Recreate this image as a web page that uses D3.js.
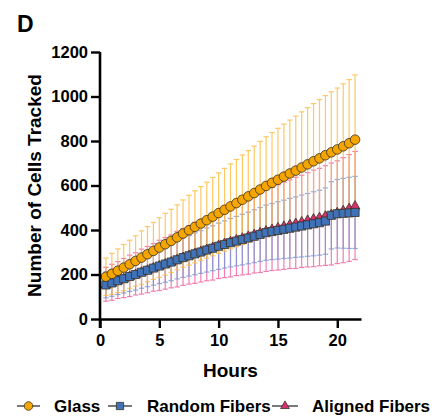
<!DOCTYPE html>
<html>
<head>
<meta charset="utf-8">
<script src="https://cdn.jsdelivr.net/npm/d3@7"></script>
<style>
  body { margin: 0; background: #fff; }
  text { font-family: "Liberation Sans", Arial, sans-serif; font-weight: bold; }
</style>
</head>
<body>
<div id="chart-area"></div>
<script>
// data
const hours = [0.5, 1, 1.5, 2, 2.5, 3, 3.5, 4, 4.5, 5, 5.5, 6, 6.5, 7, 7.5, 8, 8.5, 9, 9.5, 10,
  10.5, 11, 11.5, 12, 12.5, 13, 13.5, 14, 14.5, 15, 15.5, 16, 16.5, 17, 17.5, 18, 18.5, 19, 19.5, 20,
  20.5, 21, 21.5];

const glassMean = [190, 203, 217, 231, 246, 261, 276, 291, 306, 321, 336, 351, 367, 384, 399, 414, 429, 444, 460, 476,
  491, 506, 521, 536, 551, 566, 582, 598, 612, 626, 640, 654, 667, 681, 695, 709, 722, 736, 749, 762,
  776, 790, 806];
const glassSD = [84, 92, 98, 104, 108, 113, 120, 124, 128, 134, 139, 142, 146, 151, 157, 162, 166, 171, 176, 181,
  186, 191, 196, 201, 206, 211, 216, 221, 226, 231, 236, 240, 245, 250, 255, 259, 264, 268, 272, 276,
  281, 286, 291];

const randomMean = [153, 162, 172, 181, 191, 200, 210, 219, 229, 238, 247, 256, 266, 276, 284, 293, 301, 310, 318, 327,
  335, 343, 350, 357, 364, 372, 380, 388, 393, 398, 403, 408, 413, 418, 423, 428, 433, 440, 466, 473,
  475, 477, 479];
const randomSD = [58, 60, 62, 64, 67, 70, 72, 74, 77, 79, 82, 84, 86, 89, 91, 94, 96, 99, 101, 104,
  106, 109, 111, 114, 116, 119, 121, 124, 126, 129, 131, 134, 136, 139, 141, 144, 146, 149, 151, 154,
  157, 160, 162];

const alignedMean = [156, 165, 175, 184, 194, 203, 213, 222, 232, 241, 250, 259, 269, 279, 288, 297, 306, 315, 324, 333,
  342, 350, 358, 366, 374, 382, 390, 398, 405, 412, 419, 426, 432, 439, 446, 452, 458, 465, 472, 480,
  489, 499, 510];
const alignedSD = [76, 81, 83, 88, 93, 95, 101, 104, 107, 113, 116, 119, 125, 128, 131, 137, 140, 143, 149, 151,
  156, 161, 163, 168, 173, 175, 181, 184, 187, 192, 196, 199, 205, 207, 212, 217, 219, 224, 229, 231,
  236, 240, 243];

const xTicks = [0, 5, 10, 15, 20];
const yTicks = [0, 200, 400, 600, 800, 1000, 1200];

const margin = { left: 100, right: 75, top: 52, bottom: 97 };
const width = 436 - margin.left - margin.right;
const height = 416 - margin.top - margin.bottom;

const svg = d3.select('#chart-area').append('svg')
  .attr('width', 436)
  .attr('height', 416);

const g = svg.append('g')
  .attr('transform', `translate(${margin.left}, ${margin.top})`);

const x = d3.scaleLinear().domain([0, 22]).range([0, width]);
const y = d3.scaleLinear().domain([0, 1200]).range([height, 0]);

// panel letter
svg.append('text')
  .attr('x', 17)
  .attr('y', 32)
  .attr('font-size', '23px')
  .text('D');

const series = [
  { name: 'Glass', mean: glassMean, sd: glassSD, fill: '#f5a500', bar: '#ffbb3d', shape: d3.symbolCircle, size: 72 },
  { name: 'Random Fibers', mean: randomMean, sd: randomSD, fill: '#3f72b8', bar: '#7898d8', shape: d3.symbolSquare, size: 66 },
  { name: 'Aligned Fibers', mean: alignedMean, sd: alignedSD, fill: '#d4336f', bar: '#f0609e', shape: d3.symbolTriangle, size: 42 }
];

// error bars, all behind the markers
const barOrder = [series[2], series[1], series[0]];
barOrder.forEach(s => {
  const eg = g.append('g')
    .attr('stroke', s.bar)
    .attr('stroke-width', 1.2)
    .attr('opacity', 0.8);
  hours.forEach((h, i) => {
    const hi = y(s.mean[i] + s.sd[i]);
    const lo = y(s.mean[i] - s.sd[i]);
    eg.append('line').attr('x1', x(h)).attr('x2', x(h)).attr('y1', hi).attr('y2', lo);
    eg.append('line').attr('x1', x(h) - 2.7).attr('x2', x(h) + 2.7).attr('y1', hi).attr('y2', hi);
    eg.append('line').attr('x1', x(h) - 2.7).attr('x2', x(h) + 2.7).attr('y1', lo).attr('y2', lo);
  });
});

// lines and markers: aligned, then random, then glass on top
const line = d3.line().x(d => x(d[0])).y(d => y(d[1]));
barOrder.forEach(s => {
  const pts = hours.map((h, i) => [h, s.mean[i]]);
  g.append('path')
    .attr('d', line(pts))
    .attr('fill', 'none')
    .attr('stroke', '#222')
    .attr('stroke-width', 1);
  g.selectAll(null)
    .data(pts)
    .enter()
    .append('path')
      .attr('d', d3.symbol().type(s.shape).size(s.size))
      .attr('transform', d => `translate(${x(d[0])}, ${y(d[1]) + (s.shape === d3.symbolTriangle ? 0.8 : 0)})`)
      .attr('fill', s.fill)
      .attr('stroke', '#3a3020')
      .attr('stroke-width', 0.8);
});

// axes
const yAxisCall = d3.axisLeft(y).tickValues(yTicks).tickFormat(d3.format('d'))
  .tickSize(9).tickSizeOuter(0).tickPadding(3);
const yAxis = g.append('g').attr('class', 'y-axis').call(yAxisCall);

const xAxisCall = d3.axisBottom(x).tickValues(xTicks).tickFormat(d3.format('d'))
  .tickSize(9).tickSizeOuter(0).tickPadding(6);
const xAxis = g.append('g')
  .attr('class', 'x-axis')
  .attr('transform', `translate(0, ${height})`)
  .call(xAxisCall);

[yAxis, xAxis].forEach(a => {
  a.select('.domain').attr('stroke', '#000').attr('stroke-width', 2.6);
  a.selectAll('.tick line').attr('stroke', '#000').attr('stroke-width', 2.4);
  a.selectAll('.tick text')
    .attr('font-size', '16.5px')
    .attr('font-family', '"Liberation Sans", Arial, sans-serif')
    .attr('font-weight', 'bold')
    .attr('fill', '#000');
});
yAxis.select('.domain').attr('d', `M0,${height + 9}V0`);

// axis labels
g.append('text')
  .attr('x', width / 2)
  .attr('y', height + 58)
  .attr('font-size', '19px')
  .attr('text-anchor', 'middle')
  .text('Hours');

g.append('text')
  .attr('x', -(height / 2))
  .attr('y', -59)
  .attr('font-size', '19px')
  .attr('text-anchor', 'middle')
  .attr('transform', 'rotate(-90)')
  .text('Number of Cells Tracked');

// legend
const legendItems = [
  { s: series[0], x0: 17, x1: 40, tx: 54 },
  { s: series[1], x0: 108, x1: 132, tx: 147 },
  { s: series[2], x0: 272, x1: 298, tx: 312 }
];
const ly = 406;
legendItems.forEach(it => {
  svg.append('line')
    .attr('x1', it.x0).attr('x2', it.x1)
    .attr('y1', ly).attr('y2', ly)
    .attr('stroke', '#222').attr('stroke-width', 1.2);
  svg.append('path')
    .attr('d', d3.symbol().type(it.s.shape).size(it.s.size * 0.8))
    .attr('transform', `translate(${(it.x0 + it.x1) / 2}, ${ly})`)
    .attr('fill', it.s.fill)
    .attr('stroke', '#3a3020')
    .attr('stroke-width', 0.8);
  svg.append('text')
    .attr('x', it.tx)
    .attr('y', ly + 6)
    .attr('font-size', '17px')
    .text(it.s.name);
});
</script>
</body>
</html>
